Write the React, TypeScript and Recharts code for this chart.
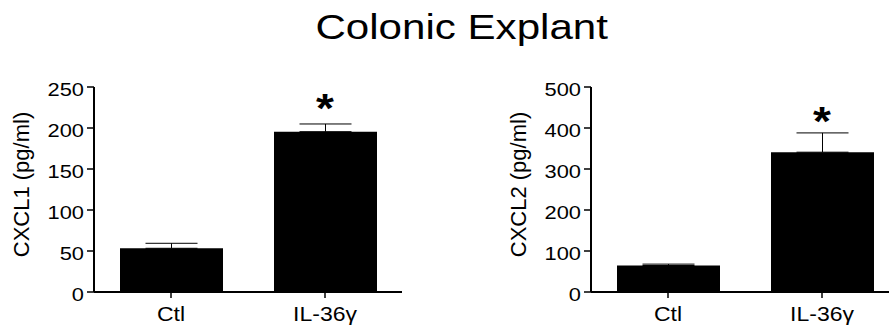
import React from 'react';
import { BarChart, Bar, XAxis, YAxis, ErrorBar, ReferenceDot } from 'recharts';

const categories = ['Ctl', 'IL-36γ'];
const cxcl1Mean = [53.3, 195.5];
const cxcl1Err = [6.1, 9.4];
const cxcl2Mean = [64.7, 341];
const cxcl2Err = [3.3, 47];
const significance = ['', '*'];
const cxcl1Ticks = [0, 50, 100, 150, 200, 250];
const cxcl2Ticks = [0, 100, 200, 300, 400, 500];
const titleText = 'Colonic Explant';
const cxcl1Label = 'CXCL1 (pg/ml)';
const cxcl2Label = 'CXCL2 (pg/ml)';

const FONT = '"Liberation Sans", Arial, Helvetica, sans-serif';
const SX = 1.15;

const build = (mean: number[], err: number[]) =>
  categories.map((c, i) => ({ name: c, value: mean[i], err: [0, err[i]], sig: significance[i] }));

const YTick = (props: any) => {
  const { x, y, payload } = props;
  return (
    <g transform={`translate(${x},${y}) scale(${SX},1)`}>
      <text x={0} y={0} dy={8.7} textAnchor="end" fontSize={19} fontFamily={FONT} fill="#000">
        {payload.value}
      </text>
    </g>
  );
};

const XTick = (props: any) => {
  const { x, y, payload } = props;
  return (
    <g transform={`translate(${x},${y}) scale(${SX},1)`}>
      <text x={0} y={0} dy={20.7} textAnchor="middle" fontSize={20} fontFamily={FONT} fill="#000">
        {payload.value}
      </text>
    </g>
  );
};

const makeYLabel = (text: string) => (props: any) => {
  const vb = props.viewBox || { x: 0, y: 87, width: 94, height: 205 };
  const cx = vb.x + 21;
  const cy = vb.y + vb.height / 2 - 5;
  return (
    <text
      x={cx}
      y={cy}
      transform={`rotate(-90, ${cx}, ${cy})`}
      textAnchor="middle"
      dominantBaseline="central"
      fontSize={22}
      fontFamily={FONT}
      fill="#000"
    >
      {text}
    </text>
  );
};

const Star = (props: any) => {
  const { cx, cy, off, text } = props;
  return (
    <g transform={`translate(${cx},${cy - off}) scale(${SX},1)`}>
      <text x={0} y={0} textAnchor="middle" fontSize={40} fontWeight="bold" fontFamily={FONT} fill="#000">
        {text}
      </text>
    </g>
  );
};

function Panel({ mean, err, ticks, label, starOff }: any) {
  const data = build(mean, err);
  const yMax = ticks[ticks.length - 1];
  return (
    <BarChart width={410} height={329} data={data} margin={{ top: 87, right: 8, bottom: 7, left: 0 }}>
      <XAxis
        dataKey="name"
        height={30}
        interval={0}
        tick={<XTick />}
        tickSize={6}
        tickMargin={2}
        tickLine={{ stroke: '#000', strokeWidth: 1.5 }}
        axisLine={{ stroke: '#000', strokeWidth: 2 }}
      />
      <YAxis
        type="number"
        domain={[0, yMax]}
        ticks={ticks}
        interval={0}
        width={94}
        tick={<YTick />}
        tickSize={7}
        tickMargin={3}
        tickLine={{ stroke: '#000', strokeWidth: 1.5 }}
        axisLine={{ stroke: '#000', strokeWidth: 2 }}
        label={makeYLabel(label)}
      />
      <Bar dataKey="value" fill="#000" barSize={103} isAnimationActive={false}>
        <ErrorBar dataKey="err" width={26} stroke="#000" strokeWidth={1} direction="y" isAnimationActive={false} />
      </Bar>
      {data.map((d, i) =>
        d.sig ? (
          <ReferenceDot
            key={i}
            x={d.name}
            y={d.value + d.err[1]}
            r={0}
            shape={(p: any) => <Star cx={p.cx} cy={p.cy} off={starOff} text={d.sig} />}
          />
        ) : null
      )}
    </BarChart>
  );
}

export default function App() {
  return (
    <div
      style={{
        position: 'absolute',
        left: 0,
        top: 0,
        width: 889,
        height: 329,
        overflow: 'hidden',
        background: '#fff',
      }}
    >
      <svg width={889} height={60} style={{ position: 'absolute', left: 0, top: 0 }}>
        <g transform={`translate(461.7,39.3) scale(1.17,1)`}>
          <text x={0} y={0} textAnchor="middle" fontSize={36} fontFamily={FONT} fill="#000">
            {titleText}
          </text>
        </g>
      </svg>
      <div style={{ position: 'absolute', left: 0, top: 0 }}>
        <Panel mean={cxcl1Mean} err={cxcl1Err} ticks={cxcl1Ticks} label={cxcl1Label} starOff={1.7} />
      </div>
      <div style={{ position: 'absolute', left: 497, top: 0 }}>
        <Panel mean={cxcl2Mean} err={cxcl2Err} ticks={cxcl2Ticks} label={cxcl2Label} starOff={-2.3} />
      </div>
    </div>
  );
}
